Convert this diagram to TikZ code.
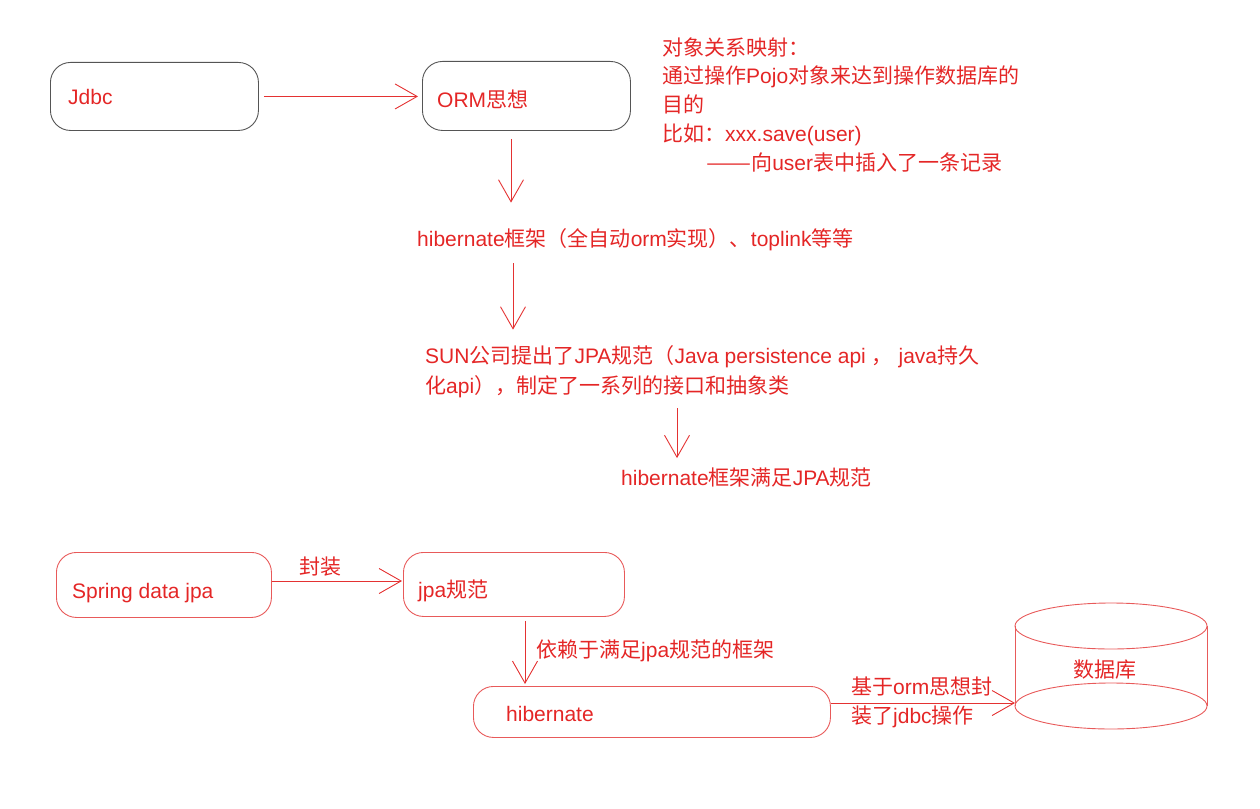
\documentclass[tikz,border=0pt]{standalone}
\usepackage{fontspec}
\setmainfont{Liberation Sans}
\newfontfamily\latinfont{Liberation Sans}
\newfontfamily\cjkfont{Noto Sans CJK SC}
\usetikzlibrary{arrows.meta}
\XeTeXinterchartokenstate=1
\newXeTeXintercharclass\CJKcls
\newcount\mycc
\def\mysetrange#1#2{\mycc=#1\relax\loop\XeTeXcharclass\mycc=\CJKcls\relax\ifnum\mycc<#2\advance\mycc by 1\repeat}
\mysetrange{"4E00}{"9FFF}
\mysetrange{"3000}{"303F}
\mysetrange{"FF00}{"FFEF}
\XeTeXcharclass"2014=\CJKcls
\XeTeXinterchartoks 0 \CJKcls = {\cjkfont}
\XeTeXinterchartoks 4095 \CJKcls = {\cjkfont}
\XeTeXinterchartoks \CJKcls 0 = {\latinfont}
\XeTeXinterchartoks \CJKcls 4095 = {\latinfont}
\definecolor{txtred}{RGB}{228,38,38}
\definecolor{linered}{RGB}{228,50,50}
\definecolor{boxred}{RGB}{232,90,90}
\definecolor{boxgray}{RGB}{85,85,85}
\tikzset{
  txt/.style={inner sep=0pt, text=txtred, anchor=west, align=left, font=\fontsize{21}{29}\selectfont},
  graybox/.style={draw=boxgray, line width=0.9pt, rounded corners=20pt, anchor=north west, inner sep=0pt},
  redbox/.style={draw=boxred, line width=0.9pt, rounded corners=20pt, anchor=north west, inner sep=0pt},
  arr/.style={draw=linered, line width=0.9pt, -{Straight Barb[length=22pt,width=25pt,line width=0.9pt]}},
  cyl/.style={draw=boxred, line width=0.9pt}
}
\begin{document}
\begin{tikzpicture}[x=1pt,y=-1pt]
\useasboundingbox (0,0) rectangle (1260,808);
% top boxes
\node[graybox, minimum width=208pt, minimum height=68pt] (jdbc) at (50,62) {};
\node[txt] (tjdbc) at (68,97) {Jdbc};
\node[graybox, minimum width=208pt, minimum height=69pt] (orm) at (422,61) {};
\node[txt] (torm) at (437,99) {ORM思想};
% annotation
\node[txt, font=\fontsize{21}{28.75}\selectfont] (note) at (662,104.5) {对象关系映射：\\通过操作Pojo对象来达到操作数据库的\\目的\\比如：xxx.save(user)\\\hspace*{44pt}\scalebox{1.28}[1]{——}向user表中插入了一条记录};
% chain texts
\node[txt] (hib1) at (417,240) {hibernate框架（全自动orm实现）、toplink等等};
\node[txt, font=\fontsize{21}{30}\selectfont] (sun) at (425,372) {SUN公司提出了JPA规范（Java persistence api ， java持久\\化api），制定了一系列的接口和抽象类};
\node[txt] (hib2) at (621,478) {hibernate框架满足JPA规范};
\coordinate (xa) at (511,0);
\coordinate (xb) at (513,0);
\coordinate (xc) at (677,0);
\draw[arr, shorten <=5pt, shorten >=4pt] (jdbc.east) -- (orm.west |- jdbc.east);
\draw[arr, shorten <=8pt, shorten >=26pt] (orm.south -| xa) -- (hib1.north -| xa);
\draw[arr, shorten <=12pt, shorten >=16pt] (hib1.south -| xb) -- (sun.north -| xb);
\draw[arr, shorten <=10pt, shorten >=10pt] (sun.south -| xc) -- (hib2.north -| xc);
% bottom boxes
\node[redbox, minimum width=215pt, minimum height=65pt] (spring) at (56,552) {};
\node[txt] (tspring) at (72,593) {Spring data jpa};
\node[redbox, minimum width=221pt, minimum height=64pt] (jpa) at (403,552) {};
\node[txt] (tjpa) at (418,591) {jpa规范};
\node[redbox, minimum width=357pt, minimum height=51pt] (hib) at (473,686) {};
\node[txt] (thib) at (506,714) {hibernate};
\coordinate (ya) at (0,581);
\coordinate (xd) at (525,0);
\draw[arr, shorten >=1pt] (spring.east |- ya) -- (jpa.west |- ya);
\node[txt, anchor=center] (lfz) at (320,567) {封装};
\draw[arr, shorten <=4pt, shorten >=2pt] (jpa.south -| xd) -- (hib.north -| xd);
\node[txt] (lyl) at (536,651) {依赖于满足jpa规范的框架};
% database cylinder
\draw[cyl] (1111,626) ellipse [x radius=96, y radius=23];
\draw[cyl] (1111,706) ellipse [x radius=96, y radius=23];
\draw[cyl] (1015,626) -- (1015,706);
\draw[cyl] (1207,626) -- (1207,706);
\node[txt, anchor=center] (db) at (1105,670) {数据库};
\coordinate (dbl) at (1015,703);
\draw[arr] (hib.east |- dbl) -- (dbl);
\node[txt] (ljd) at (851,702) {基于orm思想封\\装了jdbc操作};
\end{tikzpicture}
\end{document}
